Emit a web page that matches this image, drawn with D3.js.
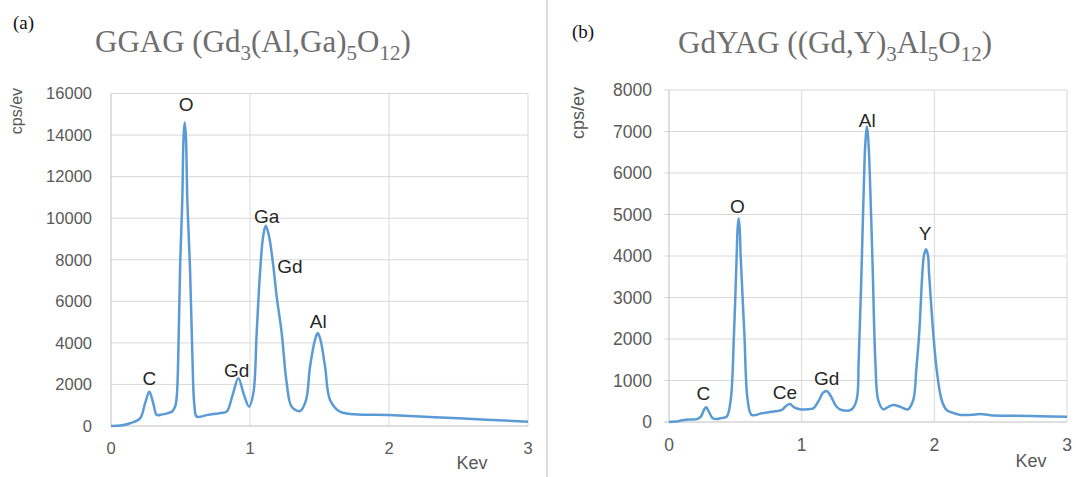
<!DOCTYPE html>
<html>
<head>
<meta charset="utf-8">
<script src="https://cdn.jsdelivr.net/npm/d3@7/dist/d3.min.js"></script>
<style>
  body { margin: 0; background: #fff; }
  text { font-family: "Liberation Sans", Arial, sans-serif; }
</style>
</head>
<body>
<div id="chart"></div>
<script>
// (a) GGAG spectrum
var ggagKev = [0, 0.07, 0.137, 0.209, 0.245, 0.276, 0.304, 0.33, 0.37, 0.41, 0.44, 0.462, 0.474, 0.486, 0.498, 0.513, 0.522, 0.53, 0.539, 0.549, 0.568, 0.585, 0.6, 0.617,
  0.70, 0.79, 0.832, 0.875, 0.916, 0.957, 0.993, 1.024, 1.048, 1.072, 1.095, 1.113, 1.135, 1.168, 1.192, 1.228, 1.264, 1.30, 1.36,
  1.403, 1.432, 1.47, 1.487, 1.505, 1.54, 1.576, 1.647, 2.0, 2.5, 3.0];
var ggagCps = [0, 20, 130, 370, 1090, 1650, 1090, 530, 560, 620, 700, 950, 1500, 4000, 7900, 10900, 13900, 14600, 13900, 10900, 7680, 3500, 1000, 450,
  540, 630, 690, 1490, 2300, 1490, 930, 1570, 4480, 7370, 9150, 9640, 9200, 7680, 6230, 4480, 2070, 930, 720,
  1250, 2860, 4200, 4470, 4200, 2860, 1250, 690, 530, 370, 210];
var ggagLabelNames = ['C', 'O', 'Gd', 'Ga', 'Gd', 'Al'];
var ggagLabelKev = [0.276, 0.54, 0.904, 1.12, 1.288, 1.491];
var ggagLabelCps = [2300, 15470, 2700, 10090, 7680, 5030];
var ggagTicks = [0, 2000, 4000, 6000, 8000, 10000, 12000, 14000, 16000];

// (b) GdYAG spectrum
var gdyagKev = [0, 0.05, 0.10, 0.15, 0.21, 0.24, 0.265, 0.28, 0.30, 0.33, 0.36, 0.40, 0.435, 0.465, 0.49, 0.51, 0.517, 0.525, 0.533, 0.54, 0.568, 0.593, 0.623,
  0.70, 0.80, 0.85, 0.88, 0.912, 0.94, 0.987, 1.05, 1.088, 1.13, 1.16, 1.188, 1.22, 1.26, 1.30, 1.377,
  1.414, 1.43, 1.452, 1.475, 1.484, 1.492, 1.5, 1.51, 1.535, 1.555, 1.577, 1.615, 1.65, 1.69, 1.74, 1.80,
  1.841, 1.865, 1.886, 1.91, 1.922, 1.937, 1.952, 1.96, 1.992, 2.02, 2.055, 2.09, 2.13, 2.2, 2.28, 2.35, 2.42, 2.6, 2.8, 3.0];
var gdyagCps = [0, 10, 40, 60, 70, 130, 300, 354, 250, 90, 70, 100, 130, 530, 2140, 4000, 4650, 4910, 4650, 4000, 2140, 530, 170,
  210, 260, 290, 380, 434, 360, 305, 310, 330, 520, 700, 747, 620, 380, 290, 305,
  530, 1500, 3740, 6400, 6900, 7120, 6900, 6300, 3740, 1500, 530, 305, 360, 410, 370, 305,
  530, 1300, 2140, 3600, 4020, 4160, 4020, 3600, 2140, 1200, 530, 300, 230, 170, 175, 190, 165, 150, 140, 128];
var gdyagLabelNames = ['C', 'O', 'Ce', 'Gd', 'Al', 'Y'];
var gdyagLabelKev = [0.259, 0.515, 0.874, 1.188, 1.494, 1.931];
var gdyagLabelCps = [690, 5200, 710, 1050, 7280, 4550];
var gdyagTicks = [0, 1000, 2000, 3000, 4000, 5000, 6000, 7000, 8000];

var kevTicks = [0, 1, 2, 3];

// titles as [text, subscript?] pieces
var ggagTitle = [['GGAG (Gd', 0], ['3', 1], ['(Al,Ga)', 0], ['5', 1], ['O', 0], ['12', 1], [')', 0]];
var gdyagTitle = [['GdYAG ((Gd,Y)', 0], ['3', 1], ['Al', 0], ['5', 1], ['O', 0], ['12', 1], [')', 0]];

var svg = d3.select('#chart')
  .append('svg')
    .attr('width', 1076)
    .attr('height', 477);

svg.append('line')
    .attr('x1', 547).attr('x2', 547)
    .attr('y1', 0).attr('y2', 477)
    .attr('stroke', '#dcdcdc')
    .attr('stroke-width', 2);

function drawPanel(o) {

  var x = d3.scaleLinear().domain([0, 3]).range([o.left, o.right]);
  var y = d3.scaleLinear().domain([0, o.yTicks[o.yTicks.length - 1]]).range([o.bottom, o.top]);

  var g = svg.append('g');

  // tag and title
  g.append('text')
      .attr('x', o.tagX).attr('y', o.tagY)
      .style('font-family', '"Liberation Serif", "Times New Roman", serif')
      .style('font-size', '19px')
      .attr('fill', '#111')
      .text(o.tag);

  var title = g.append('text')
      .attr('x', o.titleX).attr('y', o.titleY)
      .style('font-family', '"Liberation Serif", "Times New Roman", serif')
      .style('font-size', '31px')
      .attr('fill', '#6e6e6e');

  var shifted = false;
  o.title.forEach(function (p) {
    var t = title.append('tspan').text(p[0]);
    if (p[1] && !shifted) { t.attr('dy', 8).style('font-size', '21px'); shifted = true; }
    else if (p[1]) { t.style('font-size', '21px'); }
    else if (shifted) { t.attr('dy', -8); shifted = false; }
  });

  // grid
  g.selectAll('.hgrid')
      .data(o.yTicks.slice(1))
      .enter()
    .append('line')
      .attr('x1', o.left - o.tick).attr('x2', o.right)
      .attr('y1', function (d) { return y(d); })
      .attr('y2', function (d) { return y(d); })
      .attr('stroke', '#d9d9d9')
      .attr('stroke-width', 1);

  g.selectAll('.vgrid')
      .data(kevTicks.slice(1))
      .enter()
    .append('line')
      .attr('x1', function (d) { return x(d); })
      .attr('x2', function (d) { return x(d); })
      .attr('y1', o.top).attr('y2', o.bottom)
      .attr('stroke', '#d9d9d9')
      .attr('stroke-width', 1);

  // axes lines
  g.append('line')
      .attr('x1', o.left - o.tick).attr('x2', o.right)
      .attr('y1', y(0)).attr('y2', y(0))
      .attr('stroke', '#bfbfbf');
  g.append('line')
      .attr('x1', x(0)).attr('x2', x(0))
      .attr('y1', o.top).attr('y2', o.bottom)
      .attr('stroke', '#bfbfbf');

  // tick labels
  g.selectAll('.ylab')
      .data(o.yTicks)
      .enter()
    .append('text')
      .attr('x', o.left - o.labGap)
      .attr('y', function (d) { return y(d); })
      .attr('dy', '0.35em')
      .attr('text-anchor', 'end')
      .style('font-size', o.tickSize + 'px')
      .attr('fill', '#595959')
      .text(function (d) { return d; });

  g.selectAll('.xlab')
      .data(kevTicks)
      .enter()
    .append('text')
      .attr('x', function (d) { return x(d); })
      .attr('y', o.xLabY)
      .attr('dy', '0.35em')
      .attr('text-anchor', 'middle')
      .style('font-size', o.tickSize + 'px')
      .attr('fill', '#595959')
      .text(function (d) { return d; });

  g.append('text')
      .attr('transform', 'translate(' + o.yTitleX + ',' + o.yTitleY + ') rotate(-90)')
      .attr('text-anchor', 'middle')
      .attr('dy', '0.35em')
      .style('font-size', o.yTitleSize + 'px')
      .attr('fill', '#595959')
      .text('cps/ev');

  g.append('text')
      .attr('x', o.xTitleX).attr('y', o.xTitleY)
      .attr('dy', '0.35em')
      .attr('text-anchor', 'middle')
      .style('font-size', '18px')
      .attr('fill', '#595959')
      .text('Kev');

  // spectrum
  var line = d3.line()
      .x(function (d, i) { return x(o.kev[i]); })
      .y(function (d) { return y(d); })
      .curve(d3.curveCatmullRom.alpha(0.5));

  g.append('path')
      .datum(o.cps)
      .attr('fill', 'none')
      .attr('stroke', '#5b9bd5')
      .attr('stroke-width', 2.5)
      .attr('stroke-linejoin', 'round')
      .attr('d', line);

  // peak labels
  g.selectAll('.peak')
      .data(o.names)
      .enter()
    .append('text')
      .attr('x', function (d, i) { return x(o.labKev[i]); })
      .attr('y', function (d, i) { return y(o.labCps[i]); })
      .attr('dy', '0.35em')
      .attr('text-anchor', 'middle')
      .style('font-size', '19px')
      .attr('fill', '#262626')
      .text(function (d) { return d; });
}

drawPanel({
  left: 111, right: 528, top: 93.5, bottom: 426, tick: 0, labGap: 19,
  yTicks: ggagTicks, kev: ggagKev, cps: ggagCps,
  names: ggagLabelNames, labKev: ggagLabelKev, labCps: ggagLabelCps,
  tag: '(a)', tagX: 13, tagY: 29,
  title: ggagTitle, titleX: 95, titleY: 52,
  tickSize: 16.5, xLabY: 448, yTitleX: 16, yTitleY: 111, yTitleSize: 16,
  xTitleX: 472, xTitleY: 463
});

drawPanel({
  left: 669, right: 1067, top: 90, bottom: 422, tick: 5, labGap: 17,
  yTicks: gdyagTicks, kev: gdyagKev, cps: gdyagCps,
  names: gdyagLabelNames, labKev: gdyagLabelKev, labCps: gdyagLabelCps,
  tag: '(b)', tagX: 572, tagY: 38,
  title: gdyagTitle, titleX: 678, titleY: 53,
  tickSize: 17.5, xLabY: 445, yTitleX: 578, yTitleY: 113, yTitleSize: 18,
  xTitleX: 1031, xTitleY: 461
});
</script>
</body>
</html>
